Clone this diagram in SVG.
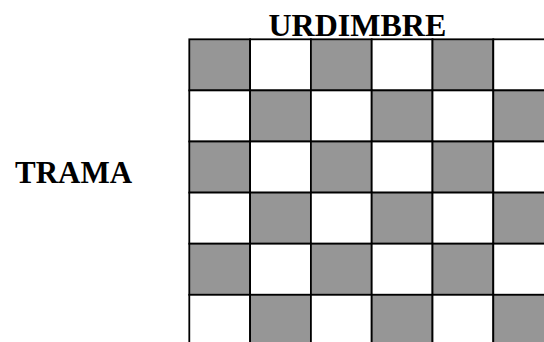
<svg xmlns="http://www.w3.org/2000/svg" width="544" height="342" viewBox="0 0 544 342">
<style>
.g{fill:#969696;stroke:#000;stroke-width:1.8}
.w{fill:#fff;stroke:#000;stroke-width:1.8}
.t{font-family:"Liberation Serif","Times New Roman",serif;font-weight:bold;fill:#000}
</style>
<rect width="544" height="342" fill="#fff"/>
<g id="grid">
<rect class="g" x="189.3" y="39.3" width="60.8" height="51.1"/>
<rect class="w" x="250.1" y="39.3" width="60.8" height="51.1"/>
<rect class="g" x="310.9" y="39.3" width="60.8" height="51.1"/>
<rect class="w" x="371.7" y="39.3" width="60.8" height="51.1"/>
<rect class="g" x="432.5" y="39.3" width="60.8" height="51.1"/>
<rect class="w" x="493.3" y="39.3" width="60.8" height="51.1"/>

<rect class="w" x="189.3" y="90.4" width="60.8" height="51.1"/>
<rect class="g" x="250.1" y="90.4" width="60.8" height="51.1"/>
<rect class="w" x="310.9" y="90.4" width="60.8" height="51.1"/>
<rect class="g" x="371.7" y="90.4" width="60.8" height="51.1"/>
<rect class="w" x="432.5" y="90.4" width="60.8" height="51.1"/>
<rect class="g" x="493.3" y="90.4" width="60.8" height="51.1"/>

<rect class="g" x="189.3" y="141.5" width="60.8" height="51.1"/>
<rect class="w" x="250.1" y="141.5" width="60.8" height="51.1"/>
<rect class="g" x="310.9" y="141.5" width="60.8" height="51.1"/>
<rect class="w" x="371.7" y="141.5" width="60.8" height="51.1"/>
<rect class="g" x="432.5" y="141.5" width="60.8" height="51.1"/>
<rect class="w" x="493.3" y="141.5" width="60.8" height="51.1"/>

<rect class="w" x="189.3" y="192.6" width="60.8" height="51.1"/>
<rect class="g" x="250.1" y="192.6" width="60.8" height="51.1"/>
<rect class="w" x="310.9" y="192.6" width="60.8" height="51.1"/>
<rect class="g" x="371.7" y="192.6" width="60.8" height="51.1"/>
<rect class="w" x="432.5" y="192.6" width="60.8" height="51.1"/>
<rect class="g" x="493.3" y="192.6" width="60.8" height="51.1"/>

<rect class="g" x="189.3" y="243.7" width="60.8" height="51.1"/>
<rect class="w" x="250.1" y="243.7" width="60.8" height="51.1"/>
<rect class="g" x="310.9" y="243.7" width="60.8" height="51.1"/>
<rect class="w" x="371.7" y="243.7" width="60.8" height="51.1"/>
<rect class="g" x="432.5" y="243.7" width="60.8" height="51.1"/>
<rect class="w" x="493.3" y="243.7" width="60.8" height="51.1"/>

<rect class="w" x="189.3" y="294.8" width="60.8" height="51.1"/>
<rect class="g" x="250.1" y="294.8" width="60.8" height="51.1"/>
<rect class="w" x="310.9" y="294.8" width="60.8" height="51.1"/>
<rect class="g" x="371.7" y="294.8" width="60.8" height="51.1"/>
<rect class="w" x="432.5" y="294.8" width="60.8" height="51.1"/>
<rect class="g" x="493.3" y="294.8" width="60.8" height="51.1"/>
</g>
<text class="t" x="268.5" y="36" font-size="32">URDIMBRE</text>
<text class="t" x="15" y="183.3" font-size="31">TRAMA</text>
</svg>
